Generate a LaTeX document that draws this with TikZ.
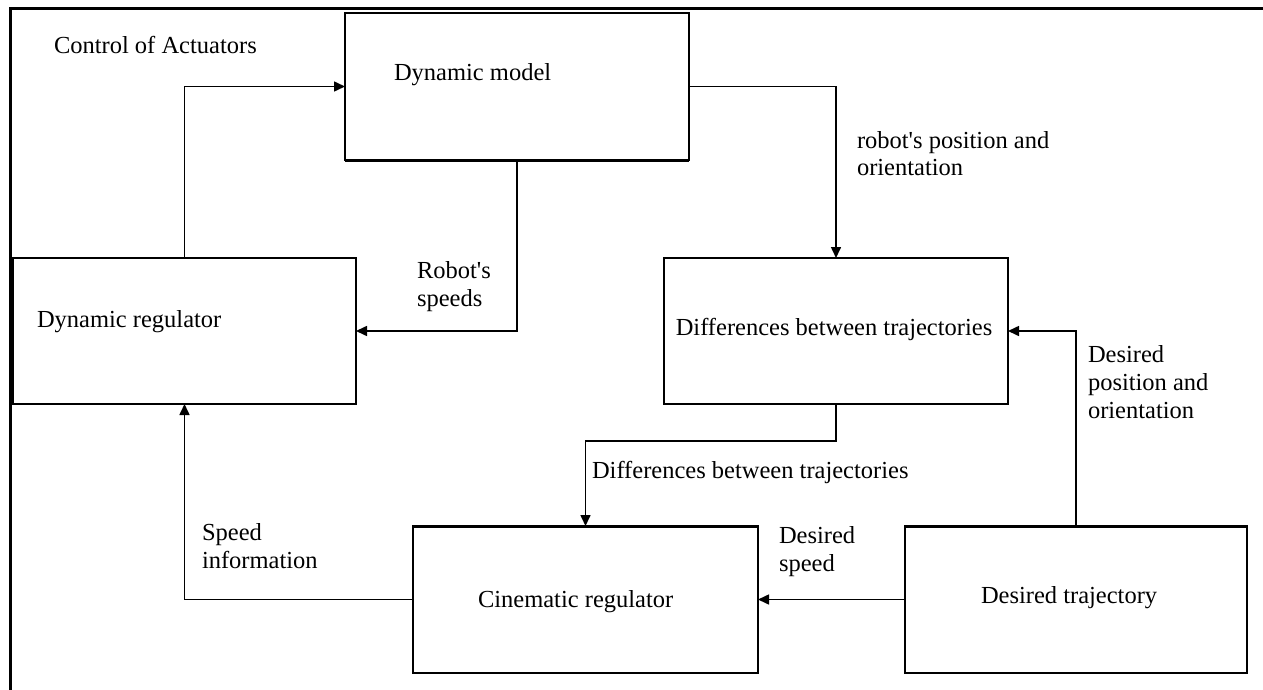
\documentclass[tikz,border=0pt]{standalone}
\usepackage{fontspec}
\setmainfont{Liberation Serif}
\usetikzlibrary{arrows.meta}
\begin{document}
\begin{tikzpicture}[x=1pt,y=-1pt,
  every node/.style={font=\fontsize{24.5}{28}\selectfont},
  box/.style={draw, line width=1.7pt, inner sep=0pt, outer sep=0pt, anchor=north west},
  txt/.style={inner sep=0pt, outer sep=0pt},
  lbl/.style={inner sep=0pt, outer sep=0pt, align=left, anchor=north west},
  conn/.style={line width=1.6pt, -{Triangle[length=11pt,width=10pt]}},
  heavy/.style={line width=3pt}
]
\useasboundingbox (0,0) rectangle (1263,690);
% outer frame (top and left edges)
\draw[line width=3pt] (10,690) -- (10,9) -- (1263,9);

% boxes
\node[box, minimum width=344pt, minimum height=147pt] (dm) at (345,13) {};
\node[box, minimum width=343pt, minimum height=146pt] (dr) at (13,258) {};
\node[box, minimum width=344pt, minimum height=146pt] (diff) at (664,258) {};
\node[box, minimum width=345pt, minimum height=147pt] (cr) at (413,526) {};
\node[box, minimum width=342pt, minimum height=147pt] (dt) at (905,526) {};
% heavier edges as in the reference
\draw[heavy] (dm.south west) -- (dm.south east);
\draw[heavy] (cr.north west) -- (cr.north east);
\draw[heavy] (dt.north west) -- (dt.north east);

% box texts
\node[txt, anchor=west] (tca) at (54,45) {Control of Actuators};
\node[txt, anchor=west] (tdm) at (394,75) {Dynamic model};
\node[txt, anchor=west] (tdr) at (37,322) {Dynamic regulator};
\node[txt] (tdiff) at (834,329) {Differences between trajectories};
\node[txt, anchor=west] (tcr) at (478,602) {Cinematic regulator};
\node[txt, anchor=west] (tdt) at (981,598) {Desired trajectory};

% connector labels
\node[lbl] (lrp) at (857,131) {robot\textquotesingle s position and\\orientation};
\node[lbl] (lrs) at (417,261) {Robot\textquotesingle s\\speeds};
\node[lbl] (ldp) at (1088,345) {Desired\\position and\\orientation};
\node[txt, anchor=west] (ldiff) at (592,472) {Differences between trajectories};
\node[lbl] (lsi) at (202,523) {Speed\\information};
\node[lbl] (lds) at (779,526) {Desired\\speed};

% connectors
\coordinate (m) at (836,441);
\draw[conn] (dr.north) |- (dm.west);
\draw[conn] (dm.east) -| (diff.north);
\draw[conn] (dm.south) |- (dr.east);
\draw[conn] (dt.north) |- (diff.east);
\draw[conn] (diff.south) -- (m) -| (cr.north);
\draw[conn] (dt.west) -- (cr.east);
\draw[conn] (cr.west) -| (dr.south);
\end{tikzpicture}
\end{document}
